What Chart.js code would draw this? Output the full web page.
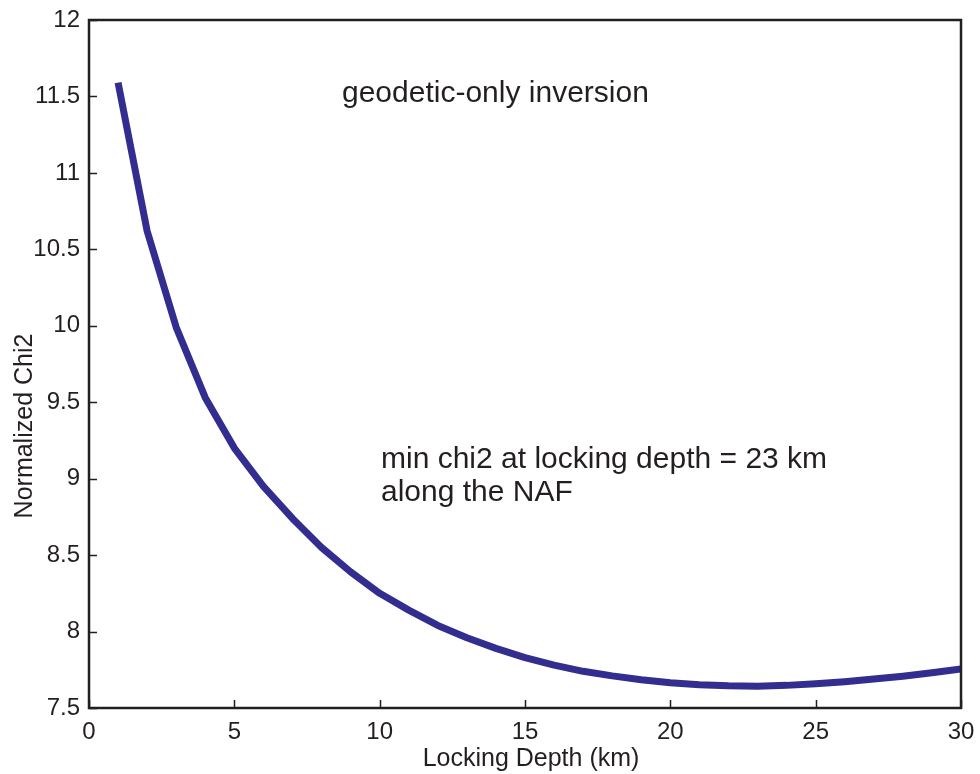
<!DOCTYPE html>
<html>
<head>
<meta charset="utf-8">
<script src="https://cdn.jsdelivr.net/npm/chart.js@4/dist/chart.umd.min.js"></script>
<style>
  html, body { margin: 0; padding: 0; background: #ffffff; }
  #wrap { width: 980px; height: 774px; position: relative; }
</style>
</head>
<body>
<div id="wrap"><canvas id="c" width="980" height="774"></canvas></div>
<script>
// ---- data ----
const lockingDepthKm = [1, 2, 3, 4, 5, 6, 7, 8, 9, 10,
                        11, 12, 13, 14, 15, 16, 17, 18, 19, 20,
                        21, 22, 23, 24, 25, 26, 27, 28, 29, 30];
const normalizedChi2 = [11.59, 10.62, 9.99, 9.53, 9.20, 8.95, 8.74, 8.55, 8.39, 8.25,
                        8.14, 8.04, 7.96, 7.89, 7.83, 7.78, 7.74, 7.71, 7.685, 7.665,
                        7.652, 7.645, 7.643, 7.648, 7.658, 7.672, 7.69, 7.708, 7.73, 7.755];
const xTickValues = [0, 5, 10, 15, 20, 25, 30];
const yTickValues = [7.5, 8, 8.5, 9, 9.5, 10, 10.5, 11, 11.5, 12];
const xAxisTitle = 'Locking Depth (km)';
const yAxisTitle = 'Normalized Chi2';
const annotationTop = 'geodetic-only inversion';
const annotationMid = ['min chi2 at locking depth = 23 km', 'along the NAF'];

const INK = '#231f20';
const FONT = '"Liberation Sans", Arial, Helvetica, sans-serif';

const points = lockingDepthKm.map((x, i) => ({ x: x, y: normalizedChi2[i] }));

const framePlugin = {
  id: 'frameAndText',
  afterDraw(chart) {
    const ctx = chart.ctx;
    const a = chart.chartArea;
    const xs = chart.scales.x, ys = chart.scales.y;
    ctx.save();
    // inward tick marks (left and bottom)
    ctx.strokeStyle = INK;
    ctx.lineWidth = 1.5;
    ctx.beginPath();
    xTickValues.forEach(v => {
      const px = Math.round(xs.getPixelForValue(v)) + 0.5;
      ctx.moveTo(px, a.bottom);
      ctx.lineTo(px, a.bottom - 8);
    });
    yTickValues.forEach(v => {
      const py = Math.round(ys.getPixelForValue(v)) + 0.5;
      ctx.moveTo(a.left, py);
      ctx.lineTo(a.left + 8, py);
    });
    ctx.stroke();
    // frame
    ctx.lineWidth = 2.5;
    ctx.strokeRect(a.left, a.top, a.right - a.left, a.bottom - a.top);

    // texts
    ctx.fillStyle = INK;
    ctx.textBaseline = 'alphabetic';
    ctx.textAlign = 'center';
    ctx.font = '25px ' + FONT;
    ctx.fillText(xAxisTitle, (a.left + a.right) / 2 + 6, 766);
    ctx.save();
    ctx.translate(32, 426);
    ctx.rotate(-Math.PI / 2);
    ctx.fillText(yAxisTitle, 0, 0);
    ctx.restore();

    ctx.textAlign = 'left';
    ctx.font = '30px ' + FONT;
    ctx.fillText(annotationTop, 342, 102);
    ctx.fillText(annotationMid[0], 381, 468);
    ctx.fillText(annotationMid[1], 381, 501);
    ctx.restore();
  }
};

const fmt = v => String(Math.round(v * 10) / 10);

new Chart(document.getElementById('c'), {
  type: 'line',
  data: {
    datasets: [{
      data: points,
      borderColor: '#322d8e',
      borderWidth: 7,
      borderJoinStyle: 'round',
      borderCapStyle: 'butt',
      pointRadius: 0,
      tension: 0,
      fill: false
    }]
  },
  options: {
    responsive: false,
    animation: false,
    events: [],
    layout: { padding: { left: 0, right: 19, top: 20, bottom: 0 } },
    plugins: { legend: { display: false }, tooltip: { enabled: false } },
    scales: {
      x: {
        type: 'linear',
        min: 0, max: 30,
        afterFit(s) { s.height = 66; s.paddingLeft = 0; s.paddingRight = 0; },
        afterBuildTicks(s) { s.ticks = xTickValues.map(v => ({ value: v })); },
        grid: { display: true, drawOnChartArea: false, drawTicks: false },
        border: { display: false },
        ticks: { color: INK, font: { family: FONT, size: 24 }, padding: 10, maxRotation: 0, callback: fmt }
      },
      y: {
        type: 'linear',
        min: 7.5, max: 12,
        afterFit(s) { s.width = 89; s.paddingTop = 0; s.paddingBottom = 0; },
        afterBuildTicks(s) { s.ticks = yTickValues.map(v => ({ value: v })); },
        grid: { display: true, drawOnChartArea: false, drawTicks: false },
        border: { display: false },
        ticks: { color: INK, font: { family: FONT, size: 24 }, padding: 9, callback: fmt }
      }
    }
  },
  plugins: [framePlugin]
});
</script>
</body>
</html>
